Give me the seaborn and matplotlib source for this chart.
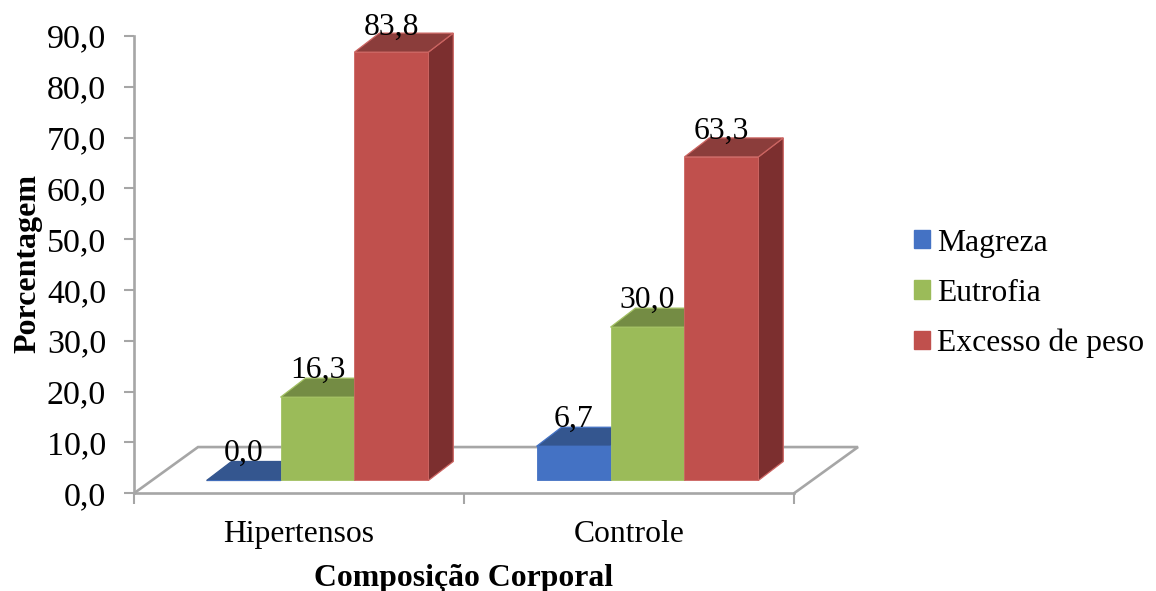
import matplotlib
matplotlib.use("Agg")
import matplotlib.pyplot as plt
import pandas as pd
import seaborn as sns
from matplotlib.patches import Patch, Polygon
from matplotlib.transforms import Affine2D

# Survey results (%)
groups = ["Hipertensos", "Controle"]
classes = ["Magreza", "Eutrofia", "Excesso de peso"]
magreza = [0.0, 6.7]
eutrofia = [16.3, 30.0]
excesso = [83.8, 63.3]
front_colors = ["#4472C4", "#9BBB59", "#C0504D"]
top_colors = ["#34568F", "#748C44", "#8B3D3B"]
side_colors = ["#2E4C80", "#64793A", "#7C2F2F"]
edge_colors = ["#4472C4", "#A3C163", "#CC6562"]
axis_gray = "#A6A6A6"

df = pd.DataFrame({
    "grupo": groups * 3,
    "classe": [c for c in classes for _ in groups],
    "pct": magreza + eutrofia + excesso,
})

sns.set_theme(style="white")
plt.rcParams["font.family"] = ["Liberation Serif", "DejaVu Serif"]

W, H = 1156, 591
fig = plt.figure(figsize=(W / 100, H / 100), dpi=100, facecolor="white")
ax = fig.add_axes([134 / W, 1 - 493.3 / H, 660 / W, 457.3 / H])

sns.barplot(data=df, x="grupo", y="pct", hue="classe", order=groups,
            hue_order=classes, palette=front_colors, width=0.672, dodge=True,
            legend=False, saturation=1, ax=ax)
ax.set_xlim(-0.5, 1.5)
ax.set_ylim(0, 90)

# Oblique projection of the chart: bars stand inside the floor, slightly forward
shift_x, shift_y, stretch = 0.056, 2.52, 1.006
depth_x, depth_y = 0.0755, 3.72
floor_x, floor_y = 0.194, 9.1
bar_tf = Affine2D().scale(1, stretch).translate(shift_x, shift_y) + ax.transData
label_tf = Affine2D().translate(shift_x, 6.46) + ax.transData

# Floor outline
ax.plot([-0.5, -0.5 + floor_x, 1.5 + floor_x, 1.5], [0, floor_y, floor_y, 0],
        color=axis_gray, lw=1.9, clip_on=False, zorder=1, solid_joinstyle="miter")

z = 2
label_items = []
for bar_idx in range(len(groups)):
    for container, top_c, side_c, edge_c in zip(ax.containers, top_colors, side_colors, edge_colors):
        bar = container.patches[bar_idx]
        x0, w, v = bar.get_x(), bar.get_width(), bar.get_height()
        x1 = x0 + w
        side = Polygon([(x1, 0), (x1 + depth_x, depth_y), (x1 + depth_x, v + depth_y), (x1, v)],
                       closed=True, fc=side_c, ec=edge_c, lw=0.9, transform=bar_tf,
                       zorder=z, clip_on=False)
        top = Polygon([(x0, v), (x1, v), (x1 + depth_x, v + depth_y), (x0 + depth_x, v + depth_y)],
                      closed=True, fc=top_c, ec=edge_c if v > 0 else top_c, lw=0.9,
                      transform=bar_tf, zorder=z, clip_on=False)
        ax.add_patch(side)
        ax.add_patch(top)
        bar.set_transform(bar_tf)
        bar.set_clip_on(False)
        bar.set_edgecolor(edge_c)
        bar.set_linewidth(0.6)
        bar.set_zorder(z + 0.5)
        z += 1
        label_items.append((x0 + w / 2, v))

for xc, v in label_items:
    ax.text(xc, v, f"{v:.1f}".replace(".", ","), transform=label_tf,
            ha="center", va="baseline", fontsize=22.8, color="black", zorder=50)

# Axes
for name in ("top", "right"):
    ax.spines[name].set_visible(False)
for name in ("left", "bottom"):
    ax.spines[name].set_color(axis_gray)
    ax.spines[name].set_linewidth(1.9)
ax.set_yticks(range(0, 100, 10))
ax.set_yticklabels([f"{t:.1f}".replace(".", ",") for t in range(0, 100, 10)], fontsize=24.5, color="black")
ax.set_xticks([0, 1])
ax.set_xticklabels(groups, fontsize=22.8, color="black")
ax.set_xticks([-0.5, 0.5, 1.5], minor=True)
ax.tick_params(axis="y", length=7, width=1.5, color=axis_gray, pad=13, left=True)
ax.tick_params(axis="x", which="major", length=0, pad=19)
ax.tick_params(axis="x", which="minor", length=8, width=1.5, color=axis_gray, bottom=True)
ax.set_xlabel("")
ax.set_ylabel("")

fig.text(464 / W, 1 - 578.5 / H, "Composição Corporal", ha="center", va="center",
         fontsize=22.9, fontweight="bold", color="black")
fig.text(27.5 / W, 1 - 263.5 / H, "Porcentagem", ha="center", va="center", rotation=90,
         fontsize=23, fontweight="bold", color="black")

handles = [Patch(fc=c, ec=c, label=l) for c, l in zip(front_colors, classes)]
fig.legend(handles=handles, loc="center left", bbox_to_anchor=(914 / W, 1 - 293.5 / H),
           frameon=False, fontsize=22.8, handlelength=0.5, handleheight=0.5,
           handletextpad=0.24, labelspacing=0.67, borderpad=0, borderaxespad=0,
           labelcolor="black")

fig.savefig("out.png", dpi=100, facecolor="white")
